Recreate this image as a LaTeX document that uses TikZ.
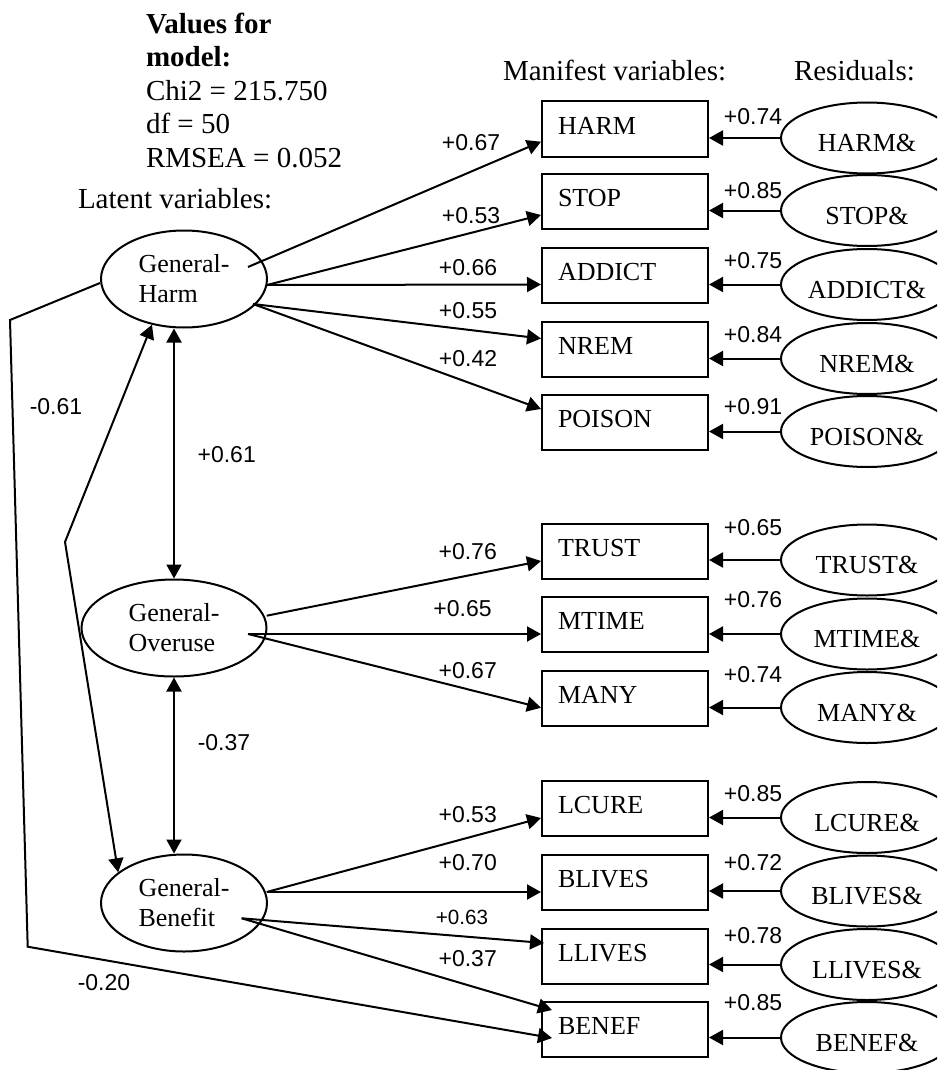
\documentclass[tikz,border=0pt]{standalone}
\usepackage{fontspec}
\setmainfont{Liberation Serif}
\setsansfont{Liberation Sans}
\usetikzlibrary{shapes.geometric,arrows.meta}

\begin{document}
\begin{tikzpicture}[x=0.5pt,y=-0.5pt,line width=1pt,
    >={Triangle[length=7pt,width=7.5pt]},
    head/.style={inner sep=0,font=\fontsize{14.5}{16.75}\selectfont},
    lbl/.style={inner sep=0,anchor=base,font=\sffamily\fontsize{11.5}{13}\selectfont}]
\useasboundingbox (0,0) rectangle (937,1070);
\clip (0,0) rectangle (937,1070);

% headings
\node[head,anchor=north west,align=left] (VAL) at (145,12)
    {\textbf{Values for}\\\textbf{model:}\\Chi2 = 215.750\\df = 50\\RMSEA = 0.052};
\node[head,anchor=base west] (LAT) at (77,208) {Latent variables:};
\node[head,anchor=base west] (MAN) at (502,80.5) {Manifest variables:};
\node[head,anchor=base west] (RES) at (793,80.5) {Residuals:};

% latent variables
\begin{scope}[every node/.style={ellipse,draw,inner sep=0,minimum width=83pt,
              minimum height=48.5pt,align=left,font=\fontsize{13}{15}\selectfont}]
    \node (GH) at (184,279) {General-\\Harm};
    \node[minimum width=92.5pt] (GO) at (174,628) {General-\\Overuse};
    \node (GB) at (184,903) {General-\\Benefit};
\end{scope}

% manifest variables
\begin{scope}[every node/.style={draw,minimum height=27.5pt,text width=67pt,inner xsep=8pt,
              text height=9pt,text depth=4pt,align=left,font=\fontsize{13}{15}\selectfont}]
    \node (HARM) at (625,129) {HARM};
    \node (STOP) at (625,201.5) {STOP};
    \node (ADDICT) at (625,275.5) {ADDICT};
    \node (NREM) at (625,349.5) {NREM};
    \node (POISON) at (625,422.5) {POISON};
    \node (TRUST) at (625,551) {TRUST};
    \node (MTIME) at (625,624.5) {MTIME};
    \node (MANY) at (625,698.3) {MANY};
    \node (LCURE) at (625,808) {LCURE};
    \node (BLIVES) at (625,882) {BLIVES};
    \node (LLIVES) at (625,956) {LLIVES};
    \node (BENEF) at (625,1029) {BENEF};
\end{scope}

% residuals
\begin{scope}[every node/.style={ellipse,draw,inner sep=0,minimum width=86pt,minimum height=35.5pt,
              text height=13.7pt,text depth=0pt,font=\fontsize{13}{15}\selectfont}]
    \node (HARMe) at (867,138) {HARM\&};
    \node (STOPe) at (867,210.5) {STOP\&};
    \node (ADDICTe) at (867,284.5) {ADDICT\&};
    \node (NREMe) at (867,358.5) {NREM\&};
    \node (POISONe) at (867,431.5) {POISON\&};
    \node (TRUSTe) at (867,560) {TRUST\&};
    \node (MTIMEe) at (867,634) {MTIME\&};
    \node (MANYe) at (867,707.5) {MANY\&};
    \node (LCUREe) at (867,817.5) {LCURE\&};
    \node (BLIVESe) at (867,891) {BLIVES\&};
    \node (LLIVESe) at (867,964.5) {LLIVES\&};
    \node (BENEFe) at (867,1037.5) {BENEF\&};
\end{scope}

% start points of the loadings
\coordinate (GH1) at (248,267);
\coordinate (GH2) at (267,285);
\coordinate (GH3) at (253,304);
\coordinate (GO1) at (266.7,615.7);
\coordinate (GO2) at (248,634);
\coordinate (GB1) at (266.7,892);
\coordinate (GB2) at (241.7,918.3);
% bends of the long connectors
\coordinate (K1) at (65,542);
\coordinate (K2) at (10,320);
\coordinate (K3) at (27.7,946.7);

\begin{scope}[every edge/.style={draw,line width=1pt,->}]
    \path (GH1) edge ([yshift=-6.35pt]HARM.west);
    \path (GH2) edge ([yshift=-6.75pt]STOP.west);
    \path (GH2) edge ([yshift=-4.5pt]ADDICT.west);
    \path (GH3) edge ([yshift=5.5pt]NREM.west);
    \path (GH3) edge ([yshift=6.75pt]POISON.west);

    \path (GO1) edge ([yshift=-5pt]TRUST.west);
    \path (GO2) edge ([yshift=-4.75pt]MTIME.west);
    \path (GO2) edge ([yshift=-4.7pt]MANY.west);

    \path (GB1) edge ([yshift=-5pt]LCURE.west);
    \path (GB1) edge ([yshift=-5pt]BLIVES.west);
    \path (GB2) edge ([xshift=1.5pt,yshift=6.5pt]LLIVES.west);
    \path (GB2) edge ([xshift=5.5pt,yshift=9.5pt]BENEF.west);

    \path (GO.north |- GH.south) edge[<->] (GO.north);
    \path (GO.south) edge[<->] (GO.south |- GB.north);

    \path (HARMe.west) edge (HARMe.west -| HARM.east);
    \path (STOPe.west) edge (STOPe.west -| STOP.east);
    \path (ADDICTe.west) edge (ADDICTe.west -| ADDICT.east);
    \path (NREMe.west) edge (NREMe.west -| NREM.east);
    \path (POISONe.west) edge (POISONe.west -| POISON.east);
    \path (TRUSTe.west) edge (TRUSTe.west -| TRUST.east);
    \path (MTIMEe.west) edge (MTIMEe.west -| MTIME.east);
    \path (MANYe.west) edge (MANYe.west -| MANY.east);
    \path (LCUREe.west) edge (LCUREe.west -| LCURE.east);
    \path (BLIVESe.west) edge (BLIVESe.west -| BLIVES.east);
    \path (LLIVESe.west) edge (LLIVESe.west -| LLIVES.east);
    \path (BENEFe.west) edge (BENEFe.west -| BENEF.east);
\end{scope}

\draw[<->] (GH.235) -- (K1) -- (GB.155);
\draw[->] ([yshift=-2pt]GH.west) -- (K2) -- (K3) -- ([xshift=5.5pt,yshift=-4.5pt]BENEF.west);

% loadings
\node[lbl] (L1) at (471,150.7) {+0.67};
\node[lbl] (L2) at (471,223) {+0.53};
\node[lbl] (L3) at (468,275) {+0.66};
\node[lbl] (L4) at (468,318) {+0.55};
\node[lbl] (L5) at (468,366.7) {+0.42};
\node[lbl] (L6) at (467.7,559) {+0.76};
\node[lbl] (L7) at (462.5,616) {+0.65};
\node[lbl] (L8) at (467.7,678.3) {+0.67};
\node[lbl] (L9) at (467.7,822.7) {+0.53};
\node[lbl] (L10) at (467.7,870.7) {+0.70};
\node[lbl,font=\sffamily\fontsize{10.3}{12}\selectfont] (L11) at (462,924) {+0.63};
\node[lbl] (L12) at (467.7,966) {+0.37};
% correlations
\node[lbl] (C1) at (226.7,462.7) {+0.61};
\node[lbl] (C2) at (224,750.7) {-0.37};
\node[lbl] (C3) at (56,414.3) {-0.61};
\node[lbl] (C4) at (104,990.7) {-0.20};
% residual weights
\node[lbl] (R1) at (753,124.3) {+0.74};
\node[lbl] (R2) at (753,198) {+0.85};
\node[lbl] (R3) at (753,268.3) {+0.75};
\node[lbl] (R4) at (753,342.7) {+0.84};
\node[lbl] (R5) at (753,414) {+0.91};
\node[lbl] (R6) at (753,535) {+0.65};
\node[lbl] (R7) at (753,607) {+0.76};
\node[lbl] (R8) at (753,682.7) {+0.74};
\node[lbl] (R9) at (753,801.7) {+0.85};
\node[lbl] (R10) at (753,870.7) {+0.72};
\node[lbl] (R11) at (753,943.3) {+0.78};
\node[lbl] (R12) at (753,1010.7) {+0.85};
\end{tikzpicture}
\end{document}
